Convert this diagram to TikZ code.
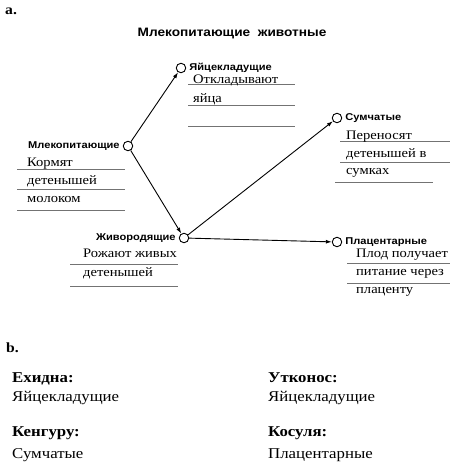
\documentclass[tikz,border=0pt]{standalone}
\usepackage{fontspec}
\setmainfont{Liberation Serif}[FakeStretch=1.12]
\setsansfont{Liberation Sans}[FakeStretch=1.12]
\usetikzlibrary{arrows.meta,positioning}

\begin{document}
\begin{tikzpicture}[
    x=1pt,y=-1pt,
    dot/.style={draw,circle,fill=white,inner sep=0pt,minimum size=9.5pt,line width=0.9pt},
    lbl/.style={font=\sffamily\bfseries\fontsize{9.9}{11}\selectfont,inner sep=1pt},
    txt/.style={anchor=base west,inner sep=0pt,font=\fontsize{13}{15}\selectfont},
    bigtxt/.style={anchor=base west,inner sep=0pt,font=\fontsize{15}{17}\selectfont},
    rule/.style={draw=black!55,line width=0.6pt},
    arr/.style={-{Latex[length=6pt,width=4pt]},line width=0.9pt}
]
\useasboundingbox (0,0) rectangle (450,463);

% part a
\node[anchor=base west,inner sep=0pt,font=\bfseries\fontsize{14}{16}\selectfont] (parta) at (5,14) {a.};
\node[font=\sffamily\bfseries\fontsize{12.2}{14}\selectfont] (title) at (232,34) {Млекопитающие\ \ животные};

\node[dot] (mammals) at (128,146) {};
\node[dot] (egg) at (181,68) {};
\node[dot] (live) at (184,238) {};
\node[dot] (pouch) at (337,118) {};
\node[dot] (placenta) at (337,242) {};

\node[lbl,left=2pt of mammals] (mammalslbl) {Млекопитающие};
\node[lbl,right=2pt of egg] (egglbl) {Яйцекладущие};
\node[lbl,left=2pt of live] (livelbl) {Живородящие};
\node[lbl,right=2pt of pouch] (pouchlbl) {Сумчатые};
\node[lbl,right=2pt of placenta] (placentalbl) {Плацентарные};

\draw[arr] (mammals) -- (egg);
\draw[arr] (mammals) -- (live);
\draw[arr] (live) -- (pouch);
\draw[arr] (live) -- (placenta);

% lines under the answers
\foreach \y in {84,105,126} \draw[rule] (188,\y) -- (295,\y);
\foreach \y in {141,162} \draw[rule] (340,\y) -- (450,\y);
\draw[rule] (335,182) -- (433,182);
\foreach \y in {169,189,210} \draw[rule] (17,\y) -- (125,\y);
\foreach \y in {264,286} \draw[rule] (70,\y) -- (178,\y);
\foreach \y in {263,283} \draw[rule] (347,\y) -- (450,\y);

\node[txt] (egg1) at (193,83) {Откладывают};
\node[txt] (egg2) at (193,102) {яйца};
\node[txt] (pouch1) at (346,139) {Переносят};
\node[txt] (pouch2) at (346,157) {детенышей в};
\node[txt] (pouch3) at (346,174) {сумках};
\node[txt] (mammals1) at (27,166) {Кормят};
\node[txt] (mammals2) at (27,184) {детенышей};
\node[txt] (mammals3) at (27,202) {молоком};
\node[txt] (live1) at (83,257) {Рожают живых};
\node[txt] (live2) at (83,276) {детенышей};
\node[txt] (placenta1) at (356,257) {Плод получает};
\node[txt] (placenta2) at (356,275) {питание через};
\node[txt] (placenta3) at (356,293) {плаценту};

% part b
\node[anchor=base west,inner sep=0pt,font=\bfseries\fontsize{14}{16}\selectfont] (partb) at (6,352) {b.};
\node[bigtxt,font=\bfseries\fontsize{15}{17}\selectfont] (echidna) at (12,382) {Ехидна:};
\node[bigtxt] (echidnaans) at (12,401) {Яйцекладущие};
\node[bigtxt,font=\bfseries\fontsize{15}{17}\selectfont] (platypus) at (268,382) {Утконос:};
\node[bigtxt] (platypusans) at (268,401) {Яйцекладущие};
\node[bigtxt,font=\bfseries\fontsize{15}{17}\selectfont] (kangaroo) at (12,436) {Кенгуру:};
\node[bigtxt] (kangarooans) at (12,458) {Сумчатые};
\node[bigtxt,font=\bfseries\fontsize{15}{17}\selectfont] (roedeer) at (268,436) {Косуля:};
\node[bigtxt] (roedeerans) at (268,458) {Плацентарные};
\end{tikzpicture}
\end{document}
